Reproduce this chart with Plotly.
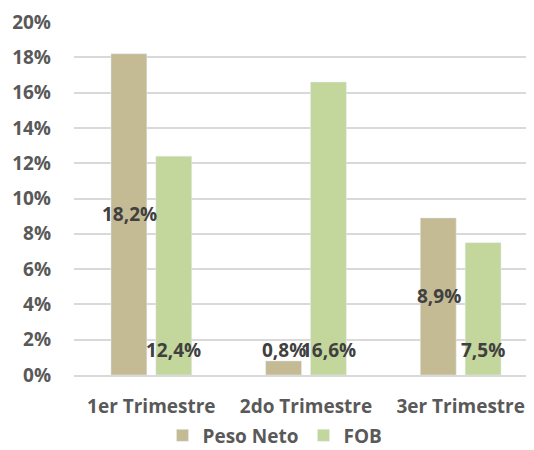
import plotly.graph_objects as go

categories = ["1er Trimestre", "2do Trimestre", "3er Trimestre"]
peso_neto = [18.2, 0.8, 8.9]
fob = [12.4, 16.6, 7.5]
y_ticks = [0, 2, 4, 6, 8, 10, 12, 14, 16, 18, 20]
y_tick_labels = [f"{t}%" for t in y_ticks]

TAN = "#C4BA93"
GREEN = "#C3D69B"
GREY = "#595959"
FONT = "Open Sans"


def fmt(v):
    return f"{v:.1f}".replace(".", ",") + "%"


fig = go.Figure()
fig.add_trace(go.Bar(x=categories, y=peso_neto, name="Peso Neto", marker_color=TAN))
fig.add_trace(go.Bar(x=categories, y=fob, name="FOB", marker_color=GREEN))

# excel-ish label placement: tall bars get centred labels, the rest sit low
annotations = []
for i, cat in enumerate(categories):
    for v, shift in ((peso_neto[i], -22), (fob[i], 22)):
        y = v / 2 if (shift < 0 and v > 2) else 1.4
        annotations.append(dict(
            x=cat, y=y, text=fmt(v), showarrow=False, xshift=shift,
            font=dict(family=FONT, size=19, color="#404040", weight="bold"),
        ))

# page body has an 8px margin, so margins are offset to line up with the target
fig.update_layout(
    width=534, height=450,
    margin=dict(l=66, r=4, t=14, b=83, autoexpand=False),
    plot_bgcolor="white", paper_bgcolor="white",
    barmode="group", bargap=0.42, bargroupgap=0.2,
    annotations=annotations,
    font=dict(family=FONT, size=19, color=GREY),
    legend=dict(orientation="h", x=0.5, xanchor="center", xref="container",
                y=0.05, yanchor="middle", yref="container",
                bgcolor="rgba(0,0,0,0)",
                font=dict(size=19, weight="bold", color=GREY)),
    xaxis=dict(tickfont=dict(size=19, weight="bold", color=GREY), showline=True,
               linecolor="#D9D9D9", linewidth=1.5, ticks="", ticklabelstandoff=13,
               automargin=False),
    yaxis=dict(range=[0, 20], tickvals=y_ticks, ticktext=y_tick_labels,
               tickfont=dict(size=19, weight="bold", color=GREY),
               gridcolor="#D9D9D9", gridwidth=1.5, zeroline=False,
               ticks="", ticklabelstandoff=22, automargin=False),
)

fig.write_html("out.html")
